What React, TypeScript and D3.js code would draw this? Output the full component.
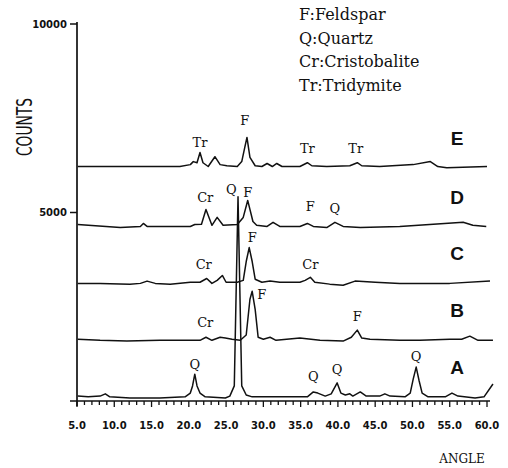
import React from 'react';
import * as d3 from 'd3';

// XRD patterns, [angle (deg 2θ), counts]
const traceA: [number, number][] = [
  [5.1, 130], [6.5, 110], [8.1, 130], [8.8, 190], [9.4, 110], [12.1, 80], [16.1, 80],
  [19.5, 110], [20.2, 210], [20.5, 400], [20.8, 710], [21.1, 400], [21.5, 210], [22.2, 110],
  [24.9, 80], [25.5, 130], [26.1, 400], [26.6, 5420], [27.1, 400], [27.7, 160], [28.5, 110],
  [33.6, 110], [35.9, 110], [36.7, 240], [37.3, 210], [38.3, 130], [39.1, 190], [39.9, 480],
  [40.4, 210], [41.0, 160], [41.6, 190], [42.0, 130], [43.0, 240], [43.8, 130], [45.6, 130],
  [46.3, 190], [47.0, 130], [49.0, 110], [49.7, 210], [50.1, 580], [50.5, 900], [50.9, 530],
  [51.3, 210], [52.1, 110], [54.4, 110], [55.3, 210], [56.1, 130], [58.4, 80], [59.6, 110],
  [60.8, 450],
];

const traceB: [number, number][] = [
  [5.1, 1640], [8.1, 1610], [11.7, 1590], [16.1, 1610], [21.5, 1610], [22.3, 1690],
  [23.1, 1610], [24.2, 1690], [24.9, 1670], [25.8, 1640], [26.9, 1610], [27.7, 1750],
  [28.2, 2700], [28.5, 2910], [28.9, 2430], [29.3, 1690], [30.0, 1640], [30.9, 1690],
  [31.7, 1610], [34.9, 1670], [37.6, 1610], [40.7, 1590], [41.8, 1690], [42.6, 1880],
  [43.2, 1670], [44.3, 1640], [48.3, 1610], [51.0, 1610], [55.0, 1640], [56.6, 1640],
  [57.7, 1720], [58.8, 1610], [60.8, 1610],
];

const traceC: [number, number][] = [
  [5.1, 3120], [8.1, 3120], [12.1, 3100], [13.5, 3120], [14.4, 3180], [15.5, 3120],
  [17.5, 3100], [20.2, 3150], [21.5, 3150], [22.4, 3250], [23.1, 3120], [23.8, 3200],
  [24.5, 3330], [25.0, 3150], [26.5, 3150], [27.3, 3200], [27.7, 3700], [28.1, 4070],
  [28.5, 3700], [28.9, 3230], [29.8, 3150], [30.9, 3180], [32.2, 3150], [34.9, 3150],
  [35.6, 3200], [36.3, 3280], [36.9, 3150], [38.9, 3100], [40.7, 3070], [42.3, 3180],
  [45.0, 3150], [48.3, 3120], [55.0, 3120], [60.4, 3180],
];

const traceD: [number, number][] = [
  [5.1, 4680], [10.8, 4600], [13.5, 4630], [13.9, 4710], [14.4, 4630], [17.5, 4630],
  [20.2, 4630], [20.8, 4680], [21.7, 4690], [22.3, 5080], [23.1, 4660], [23.8, 4870],
  [24.6, 4660], [26.5, 4680], [27.3, 4870], [27.9, 5320], [28.6, 4760], [29.1, 4660],
  [30.5, 4630], [31.3, 4740], [32.2, 4630], [34.9, 4630], [35.9, 4710], [36.7, 4630],
  [38.5, 4600], [39.6, 4740], [40.7, 4630], [43.0, 4600], [48.3, 4630], [56.8, 4740],
  [58.1, 4660], [59.9, 4630],
];

const traceE: [number, number][] = [
  [5.1, 6220], [10.8, 6220], [16.1, 6220], [18.8, 6220], [20.2, 6270], [20.6, 6350],
  [21.1, 6320], [21.5, 6590], [21.9, 6320], [22.6, 6220], [23.5, 6480], [24.2, 6270],
  [25.1, 6240], [26.5, 6220], [27.1, 6350], [27.5, 6720], [27.8, 6990], [28.2, 6460],
  [28.9, 6240], [29.8, 6220], [30.5, 6300], [31.2, 6220], [31.8, 6300], [32.5, 6220],
  [34.9, 6220], [35.9, 6320], [36.5, 6240], [38.5, 6220], [41.6, 6240], [42.6, 6320],
  [43.2, 6240], [45.6, 6220], [50.1, 6270], [52.4, 6350], [53.4, 6220], [54.6, 6190],
  [60.0, 6220],
];

const sampleNames = ['A', 'B', 'C', 'D', 'E'];
const sampleBaselines = [130, 1640, 3150, 4630, 6220];

// peak annotations: [label, angle, counts]
const peakLabels: [string, number, number][] = [
  ['Tr', 21.5, 6750], ['F', 27.5, 7330], ['Tr', 35.9, 6590], ['Tr', 42.4, 6590],
  ['Cr', 22.2, 5290], ['Q', 25.7, 5480], ['F', 27.9, 5420], ['F', 36.3, 5030], ['Q', 39.6, 5000],
  ['Cr', 22.0, 3490], ['F', 28.5, 4230], ['Cr', 36.3, 3490],
  ['Cr', 22.2, 1960], ['F', 29.8, 2700], ['F', 42.6, 2120],
  ['Q', 20.8, 850], ['Q', 36.7, 530], ['Q', 39.9, 710], ['Q', 50.5, 1060],
];

const legendItems = ['F:Feldspar', 'Q:Quartz', 'Cr:Cristobalite', 'Tr:Tridymite'];
const xTickValues = [5, 10, 15, 20, 25, 30, 35, 40, 45, 50, 55, 60];
const yTickValues = [5000, 10000];

const App: React.FC = () => {
  const width = 508;
  const height = 468;

  const x = d3.scaleLinear().domain([5, 60]).range([77, 487]);
  const y = d3.scaleLinear().domain([0, 10000]).range([401, 24]);

  const line = d3.line<[number, number]>()
    .x(d => x(d[0]))
    .y(d => y(d[1]));

  const traces = [traceA, traceB, traceC, traceD, traceE];
  const axisY = y(0);
  const serif = '"DejaVu Serif", serif';

  return (
    <svg width={width} height={height} style={{ position: 'absolute', left: 0, top: 0, background: '#fff' }}>
      {/* x axis */}
      <line x1={70} x2={490} y1={axisY} y2={axisY} stroke="#111" strokeWidth={1.7} />
      {d3.range(5, 61).map(t => (
        <line key={'xt' + t} x1={x(t)} x2={x(t)} y1={axisY} y2={axisY + (t % 5 === 0 ? 6 : 4)}
          stroke="#111" strokeWidth={1.3} />
      ))}
      {xTickValues.map(t => (
        <text key={'xl' + t} x={x(t)} y={429} textAnchor="middle" fontFamily='"DejaVu Sans", sans-serif'
          fontWeight="bold" fontSize={10} fill="#111">{t.toFixed(1)}</text>
      ))}
      <text x={462} y={463} textAnchor="middle" fontFamily={serif} fontSize={12} fill="#111">ANGLE</text>

      {/* y axis */}
      <line x1={x(5)} x2={x(5)} y1={22} y2={axisY + 5} stroke="#111" strokeWidth={1.7} />
      {yTickValues.map(t => (
        <g key={'yt' + t}>
          <line x1={70} x2={x(5)} y1={y(t)} y2={y(t)} stroke="#111" strokeWidth={1.5} />
          <text x={67} y={y(t)} dy="0.35em" textAnchor="end" fontFamily='"DejaVu Sans", sans-serif'
            fontWeight="bold" fontSize={10} fill="#111">{t}</text>
        </g>
      ))}
      <text transform="translate(32,127) rotate(-90)" textAnchor="middle" fontFamily='"DejaVu Sans", sans-serif'
        fontSize={22} textLength={58} lengthAdjust="spacingAndGlyphs" fill="#111">COUNTS</text>

      {/* patterns */}
      {traces.map((tr, i) => (
        <path key={'tr' + i} d={line(tr) || ''} fill="none" stroke="#111" strokeWidth={1.5}
          strokeLinejoin="round" />
      ))}

      {/* sample letters */}
      {sampleNames.map((n, i) => (
        <text key={'sn' + n} x={x(56)} y={y(sampleBaselines[i]) - 22} textAnchor="middle"
          fontFamily='"Liberation Sans", Arial, sans-serif' fontWeight="bold" fontSize={19} fill="#111">{n}</text>
      ))}

      {/* peak labels */}
      {peakLabels.map(([lab, a, c], i) => (
        <text key={'pl' + i} x={x(a)} y={y(c)} textAnchor="middle" fontFamily={serif} fontSize={13}
          fill="#111">{lab}</text>
      ))}

      {/* legend */}
      {legendItems.map((s, i) => (
        <text key={'lg' + i} x={299} y={20 + i * 23.5} fontFamily={serif} fontSize={16} fill="#111">{s}</text>
      ))}
    </svg>
  );
};

export default App;
